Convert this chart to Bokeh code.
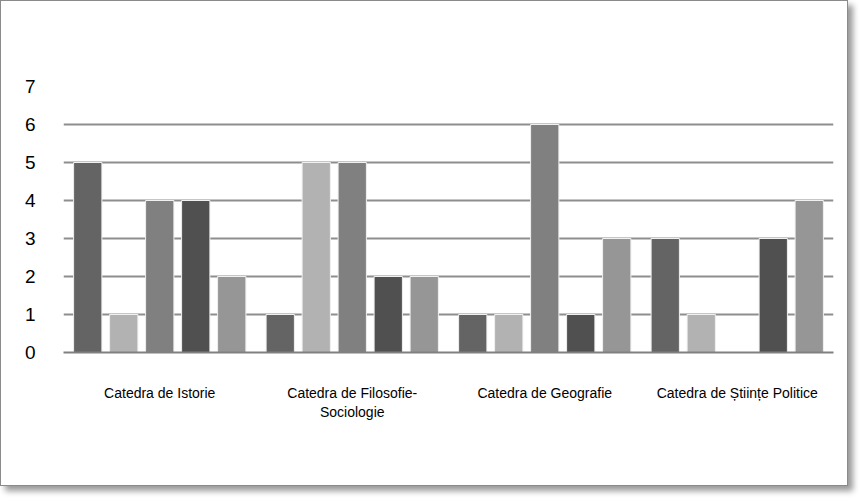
from bokeh.plotting import figure
from bokeh.models import (ColumnDataSource, FactorRange, Range1d, FixedTicker,
                          Legend, LegendItem, Label)
from bokeh.transform import dodge
from bokeh.embed import file_html
from bokeh.resources import INLINE

# ---- data ----
categories = ["Catedra de Istorie", "Catedra de Filosofie-\nSociologie",
              "Catedra de Geografie", "Catedra de Științe Politice"]
series_names = ["Profesori", "Conferențiari", "Lectori", "Asistenți", "Preparatori"]
profesori = [5, 1, 1, 3]
conferentiari = [1, 5, 1, 1]
lectori = [4, 5, 6, 0]
asistenti = [4, 2, 1, 3]
preparatori = [2, 2, 3, 4]
y_ticks = [0, 1, 2, 3, 4, 5, 6, 7]
title_text = "2005-2006"

colors = ["#646464", "#b2b2b2", "#808080", "#505050", "#969696"]
keys = ["profesori", "conferentiari", "lectori", "asistenti", "preparatori"]

source = ColumnDataSource(data=dict(cat=categories, profesori=profesori,
                                    conferentiari=conferentiari, lectori=lectori,
                                    asistenti=asistenti, preparatori=preparatori))

p = figure(width=848, height=486, x_range=FactorRange(*categories),
           y_range=Range1d(0, 7), output_backend="svg", toolbar_location=None,
           min_border_left=62, min_border_right=16, min_border_top=85,
           min_border_bottom=135)
p.title.text = ""
p.outline_line_color = None
p.styles = {"border": "1.5px solid #8a8a8a", "box-shadow": "5px 5px 6px #9a9a9a"}

step = 0.187
width = 0.147
items = []
for i, (k, name, c) in enumerate(zip(keys, series_names, colors)):
    off = (i - 2) * step
    r = p.vbar(x=dodge("cat", off, range=p.x_range), top=k, width=width,
               source=source, fill_color=c, line_color="#f0f0f0", line_width=1)
    items.append(LegendItem(label=name, renderers=[r]))

# axes
p.yaxis.ticker = FixedTicker(ticks=y_ticks)
p.yaxis.axis_line_color = None
p.yaxis.major_tick_line_color = None
p.yaxis.minor_tick_line_color = None
p.yaxis.major_label_text_font = "Liberation Sans"
p.yaxis.major_label_text_font_size = "19px"
p.yaxis.major_label_text_color = "#000000"
p.yaxis.major_label_standoff = 22

p.xaxis.axis_line_color = "#808080"
p.xaxis.axis_line_width = 2
p.xaxis.major_tick_line_color = None
p.xaxis.minor_tick_line_color = None
p.xaxis.major_label_text_font = "Liberation Sans"
p.xaxis.major_label_text_font_size = "14px"
p.xaxis.major_label_text_color = "#000000"
p.xaxis.major_label_standoff = 26

p.xgrid.grid_line_color = None
p.ygrid.grid_line_color = "#8e8e8e"
p.ygrid.grid_line_width = 2

legend = Legend(items=items, orientation="horizontal", location=(69, -99),
                padding=0, margin=0, spacing=19, label_standoff=6,
                glyph_width=12, glyph_height=9,
                label_text_font="Liberation Sans", label_text_font_size="20px",
                label_text_color="#000000",
                border_line_color=None, background_fill_alpha=0)
p.add_layout(legend, "center")

p.add_layout(Label(x=370, y=312, x_units="screen", y_units="screen",
                   text=title_text, text_align="center", text_baseline="middle",
                   text_font="Liberation Sans", text_font_style="bold",
                   text_font_size="24px", text_color="#000000"))

open("out.html", "w").write(file_html(p, INLINE))
